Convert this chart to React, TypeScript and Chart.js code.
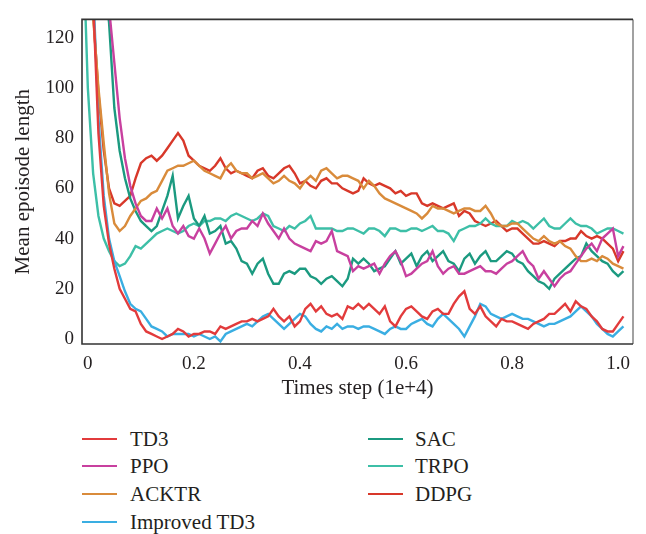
import React, { useEffect, useRef } from "react";
import { Chart, registerables } from "chart.js";

Chart.register(...registerables);

// Time steps (1e+4)
const STEPS = [
  -0.01, 0.0, 0.01, 0.02, 0.03, 0.04, 0.05, 0.06, 0.07, 0.08, 0.09,
  0.1, 0.11, 0.12, 0.13, 0.14, 0.15, 0.16, 0.17, 0.18, 0.19,
  0.2, 0.21, 0.22, 0.23, 0.24, 0.25, 0.26, 0.27, 0.28, 0.29,
  0.3, 0.31, 0.32, 0.33, 0.34, 0.35, 0.36, 0.37, 0.38, 0.39,
  0.4, 0.41, 0.42, 0.43, 0.44, 0.45, 0.46, 0.47, 0.48, 0.49,
  0.5, 0.51, 0.52, 0.53, 0.54, 0.55, 0.56, 0.57, 0.58, 0.59,
  0.6, 0.61, 0.62, 0.63, 0.64, 0.65, 0.66, 0.67, 0.68, 0.69,
  0.7, 0.71, 0.72, 0.73, 0.74, 0.75, 0.76, 0.77, 0.78, 0.79,
  0.8, 0.81, 0.82, 0.83, 0.84, 0.85, 0.86, 0.87, 0.88, 0.89,
  0.9, 0.91, 0.92, 0.93, 0.94, 0.95, 0.96, 0.97, 0.98, 0.99,
  1.0, 1.01,
];

const TD3 = [
  200, 170, 135, 82, 53, 38, 28, 20, 16, 12, 11,
  6, 3, 2, 1, 0, 1, 2, 4, 3, 1,
  2, 2, 3, 3, 2, 5, 4, 5, 6, 7,
  7, 8, 7, 8, 9, 12, 9, 7, 9, 5,
  7, 12, 14, 11, 13, 10, 9, 10, 8, 13,
  12, 14, 12, 14, 12, 10, 13, 7, 5, 9,
  12, 13, 11, 9, 8, 11, 12, 10, 10, 14,
  17, 19, 12, 10, 13, 9, 7, 5, 8, 7,
  7, 6, 5, 4, 6, 7, 8, 10, 10, 12,
  14, 11, 15, 13, 12, 9, 7, 4, 3, 3,
  6, 9,
];

const PPO = [
  200, 175, 165, 155, 145, 132, 110, 88, 72, 61, 54,
  49, 47, 47, 52, 48, 52, 45, 42, 45, 41,
  40, 44, 40, 34, 38, 42, 45, 40, 43, 44,
  44, 47, 45, 50, 46, 43, 40, 44, 40, 38,
  37, 36, 35, 39, 38, 39, 43, 35, 34, 33,
  27, 29, 28, 29, 30, 26, 30, 33, 35, 31,
  25, 26, 28, 30, 31, 35, 29, 26, 28, 29,
  26, 26, 27, 28, 29, 27, 27, 26, 28, 30,
  31, 33, 35, 31, 29, 24, 27, 24, 21, 24,
  26, 27, 30, 33, 36, 38, 35, 40, 42, 44,
  33, 37,
];

const ACKTR = [
  200, 150, 128, 100, 78, 58, 46, 43, 45, 49, 52,
  55, 56, 58, 59, 63, 67, 68, 69, 69, 70,
  71, 69, 67, 66, 65, 64, 68, 70, 67, 66,
  66, 64, 65, 66, 64, 62, 63, 65, 63, 62,
  60, 63, 65, 63, 67, 68, 66, 64, 65, 65,
  64, 63, 60, 63, 61, 58, 56, 55, 54, 53,
  52, 51, 50, 48, 50, 53, 52, 52, 51, 50,
  51, 52, 52, 51, 51, 53, 50, 46, 45, 45,
  46, 46, 44, 42, 40, 39, 41, 39, 38, 39,
  37, 36, 33, 31, 31, 32, 31, 33, 32, 30,
  29, 28,
];

const IMPROVED_TD3 = [
  200, 170, 140, 88, 57, 40, 31, 25, 19, 14, 12,
  11, 8, 5, 4, 3, 1, 2, 2, 2, 2,
  1, 2, 1, 0, 1, -1, 2, 3, 4, 5,
  6, 5, 7, 9, 10, 8, 6, 4, 6, 8,
  10, 9, 6, 4, 3, 5, 4, 6, 4, 5,
  5, 4, 5, 5, 4, 3, 2, 4, 5, 4,
  4, 6, 7, 8, 6, 5, 8, 10, 8, 6,
  4, 1, 5, 9, 14, 13, 10, 9, 8, 9,
  10, 9, 8, 8, 7, 6, 5, 6, 6, 7,
  8, 9, 11, 13, 11, 9, 6, 4, 2, 1,
  3, 5,
];

const SAC = [
  200, 180, 165, 155, 145, 126, 92, 75, 64, 56, 51,
  47, 45, 43, 45, 51, 57, 65, 48, 53, 57,
  48, 45, 49, 42, 43, 45, 38, 39, 36, 31,
  30, 26, 30, 32, 26, 22, 22, 26, 27, 26,
  28, 28, 25, 24, 22, 24, 25, 23, 21, 24,
  32, 30, 32, 30, 27, 28, 29, 32, 35, 30,
  32, 34, 29, 33, 35, 31, 33, 35, 31, 30,
  27, 32, 34, 30, 33, 35, 31, 31, 33, 35,
  34, 31, 30, 27, 25, 23, 22, 20, 24, 26,
  28, 30, 32, 33, 38, 35, 33, 31, 30, 27,
  25, 27,
];

const TRPO = [
  165, 100, 66, 49, 40, 35, 31, 29, 30, 33, 37,
  36, 38, 40, 42, 43, 44, 43, 42, 43, 45,
  46, 45, 47, 47, 48, 48, 47, 49, 50, 49,
  48, 47, 48, 50, 49, 45, 44, 43, 45, 44,
  46, 47, 49, 44, 44, 44, 44, 43, 43, 44,
  44, 43, 42, 44, 44, 43, 41, 44, 44, 43,
  43, 44, 44, 43, 44, 45, 43, 43, 42, 39,
  43, 44, 45, 45, 46, 48, 46, 45, 45, 45,
  47, 46, 47, 46, 44, 46, 48, 45, 44, 44,
  46, 48, 46, 45, 45, 44, 42, 43, 44, 44,
  43, 42,
];

const DDPG = [
  200, 150, 130, 98, 75, 60, 54, 53, 55, 57, 64,
  70, 72, 73, 71, 73, 76, 79, 82, 79, 73,
  71, 69, 68, 67, 69, 72, 68, 66, 67, 66,
  65, 64, 67, 68, 65, 64, 66, 68, 69, 66,
  62, 63, 61, 60, 63, 64, 62, 62, 60, 59,
  58, 59, 64, 62, 61, 62, 61, 60, 58, 59,
  57, 58, 58, 54, 53, 54, 53, 52, 53, 54,
  49, 51, 50, 47, 46, 45, 46, 47, 45, 43,
  44, 44, 42, 40, 38, 38, 39, 38, 37, 39,
  39, 40, 40, 43, 41, 40, 41, 40, 38, 36,
  31, 35,
];

const X_TICKS = [0, 0.2, 0.4, 0.6, 0.8, 1.0];
const Y_TICKS = [0, 20, 40, 60, 80, 100, 120];

const SERIES = [
  { name: "TD3", values: TD3, color: "#e23b3c" },
  { name: "PPO", values: PPO, color: "#c8409f" },
  { name: "ACKTR", values: ACKTR, color: "#d98b3b" },
  { name: "Improved TD3", values: IMPROVED_TD3, color: "#3aaee2" },
  { name: "SAC", values: SAC, color: "#1b9a80" },
  { name: "TRPO", values: TRPO, color: "#3dbfa7" },
  { name: "DDPG", values: DDPG, color: "#d8382a" },
];

const FONT = "'Liberation Serif', 'Times New Roman', serif";
const TEXT = "#231f20";

const framePlugin = {
  id: "frame",
  afterDatasetsDraw(chart: any) {
    const { ctx, chartArea: a } = chart;
    ctx.save();
    ctx.lineWidth = 1.6;
    ctx.strokeStyle = "#8a8a8a";
    ctx.beginPath();
    ctx.moveTo(a.right, a.top);
    ctx.lineTo(a.right, a.bottom);
    ctx.stroke();
    ctx.strokeStyle = "#333333";
    ctx.beginPath();
    ctx.moveTo(a.right, a.top);
    ctx.lineTo(a.left, a.top);
    ctx.lineTo(a.left, a.bottom);
    ctx.lineTo(a.right, a.bottom);
    ctx.stroke();
    ctx.restore();
  },
};

function ChartCanvas() {
  const ref = useRef<HTMLCanvasElement | null>(null);
  useEffect(() => {
    if (!ref.current) return;
    const chart = new Chart(ref.current, {
      type: "line",
      data: {
        datasets: SERIES.map((s) => ({
          label: s.name,
          data: STEPS.map((x, i) => ({ x, y: s.values[i] })),
          borderColor: s.color,
          backgroundColor: s.color,
          borderWidth: 2.4,
          pointRadius: 0,
          tension: 0,
          fill: false,
        })),
      },
      options: {
        responsive: false,
        animation: false,
        layout: { padding: { left: 0, right: 13, top: 8, bottom: 0 } },
        plugins: { legend: { display: false }, tooltip: { enabled: false } },
        scales: {
          x: {
            type: "linear",
            min: -0.011,
            max: 1.028,
            grid: { display: false, drawTicks: false },
            border: { display: false },
            afterBuildTicks: (scale: any) => {
              scale.ticks = X_TICKS.map((v) => ({ value: v }));
            },
            afterFit: (scale: any) => {
              scale.height = 61;
            },
            ticks: {
              padding: 9,
              maxRotation: 0,
              autoSkip: false,
              color: TEXT,
              font: { family: FONT, size: 19 },
              callback: (v: any) => (v === 0 ? "0" : Number(v).toFixed(1)),
            },
            title: {
              display: true,
              text: "Times step (1e+4)",
              color: TEXT,
              font: { family: FONT, size: 21 },
              padding: { top: 0, bottom: 4 },
            },
          },
          y: {
            type: "linear",
            min: -2,
            max: 127.3,
            grid: { display: false, drawTicks: false },
            border: { display: false },
            afterBuildTicks: (scale: any) => {
              scale.ticks = Y_TICKS.map((v) => ({ value: v }));
            },
            afterFit: (scale: any) => {
              scale.width = 82;
            },
            ticks: {
              padding: 8,
              autoSkip: false,
              color: TEXT,
              font: { family: FONT, size: 19 },
              callback: (v: any) => String(v),
            },
            title: {
              display: true,
              text: "Mean epoisode length",
              color: TEXT,
              font: { family: FONT, size: 21 },
              padding: { top: 11, bottom: 0 },
            },
          },
        },
      },
      plugins: [framePlugin],
    });
    return () => chart.destroy();
  }, []);
  return (
    <canvas
      ref={ref}
      width={646}
      height={405}
      style={{ position: "absolute", left: 0, top: 0, width: 646, height: 405 }}
    />
  );
}

const LEGEND_ROWS_Y = [439, 466, 494, 522];
const LEGEND_COLS = [
  { lineX: 82, textX: 130, names: ["TD3", "PPO", "ACKTR", "Improved TD3"] },
  { lineX: 368, textX: 415, names: ["SAC", "TRPO", "DDPG"] },
];

export default function App() {
  return (
    <div
      style={{
        position: "fixed",
        left: 0,
        top: 0,
        width: 646,
        height: 534,
        background: "#ffffff",
        overflow: "hidden",
      }}
    >
      <ChartCanvas />
      {LEGEND_COLS.map((col) =>
        col.names.map((name, r) => {
          const s = SERIES.find((d) => d.name === name)!;
          const cy = LEGEND_ROWS_Y[r];
          return (
            <React.Fragment key={name}>
              <div
                style={{
                  position: "absolute",
                  left: col.lineX,
                  top: cy - 1,
                  width: 35,
                  height: 2,
                  background: s.color,
                }}
              />
              <div
                style={{
                  position: "absolute",
                  left: col.textX,
                  top: cy - 13,
                  height: 26,
                  lineHeight: "26px",
                  fontFamily: FONT,
                  fontSize: 21,
                  color: TEXT,
                  whiteSpace: "nowrap",
                }}
              >
                {name}
              </div>
            </React.Fragment>
          );
        })
      )}
    </div>
  );
}
